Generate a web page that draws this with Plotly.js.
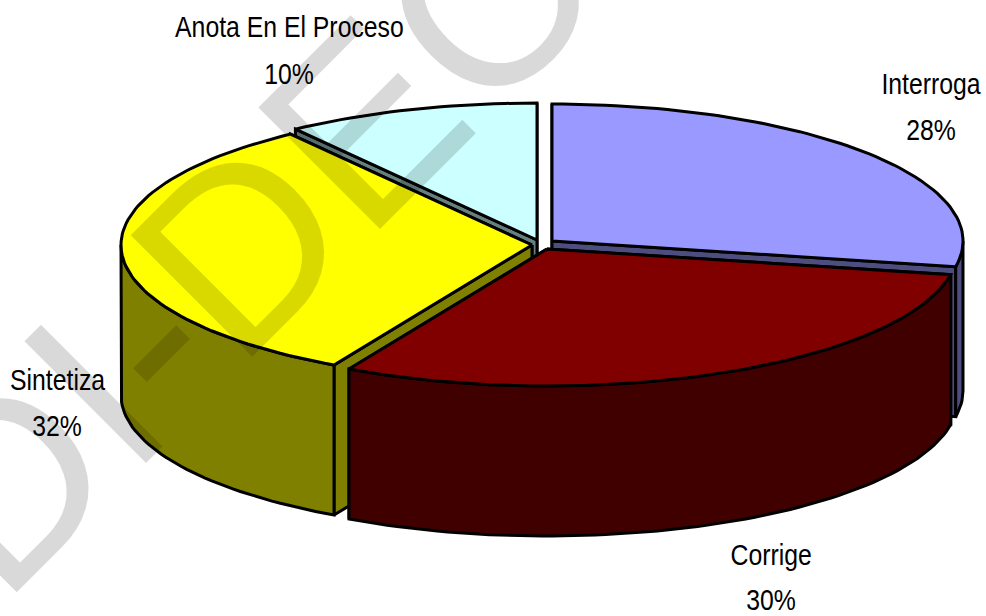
<!DOCTYPE html>
<html>
<head>
<meta charset="utf-8">
<script src="https://cdn.plot.ly/plotly-3.0.1.min.js"></script>
<style>html,body{margin:0;padding:0;background:#fff}#chart{width:986px;height:616px}</style>
</head>
<body>
<div id="chart"></div>
<script>
// Data, clockwise from the top of the pie
const categories = ["Interroga", "Corrige", "Sintetiza", "Anota En El Proceso"];
const percents = [28, 30, 32, 10];
const topColors = ["#9999FF", "#800000", "#FFFF00", "#CCFFFF"];
const sideColors = ["#4D4D80", "#400000", "#808000", "#668080"];
const watermark = "DI-DECO";

// Pie geometry
const radiusX = 411, radiusY = 137, depth = 150;
const centersX = [552, 547, 532, 537];
const centersY = [241, 249, 245, 240];
const drawOrder = [3, 0, 2, 1];

// Label placement
const labelX = [931, 771, 57, 289];
const nameY = [83, 554, 379, 26];
const percentY = [129, 599, 425, 73];
const labelSqueeze = 0.826;

function px(i, t) { return centersX[i] + radiusX * Math.sin(t * Math.PI / 180); }
function py(i, t) { return centersY[i] - radiusY * Math.cos(t * Math.PI / 180); }
function arc(i, a, b, dy) {
  const xs = [], ys = [], n = Math.max(2, Math.ceil(Math.abs(b - a) / 1.5));
  for (let k = 0; k <= n; k++) {
    const t = a + (b - a) * k / n;
    xs.push(px(i, t)); ys.push(py(i, t) + dy);
  }
  return { xs, ys };
}
function poly(xs, ys, fill) {
  return {
    type: "scatter", mode: "lines", x: xs.concat(xs[0]), y: ys.concat(ys[0]),
    fill: "toself", fillcolor: fill, line: { color: "#000", width: 3 },
    hoverinfo: "skip", showlegend: false
  };
}

const starts = [], ends = [];
let run = 0;
percents.forEach(p => { starts.push(run); run += p * 3.6; ends.push(run); });

const traces = [];
drawOrder.forEach(i => {
  const a = starts[i], b = ends[i], cx = centersX[i], cy = centersY[i];
  // The cut face lying nearer the viewer is painted last
  [a, b].sort((p, q) => py(i, p) - py(i, q)).forEach(t => {
    const ex = px(i, t), ey = py(i, t);
    traces.push(poly([cx, ex, ex, cx], [cy, ey, ey + depth, cy + depth], sideColors[i]));
  });
  const wa = Math.max(a, 90), wb = Math.min(b, 270);
  if (wb > wa) {
    const up = arc(i, wa, wb, 0), down = arc(i, wb, wa, depth);
    traces.push(poly(up.xs.concat(down.xs), up.ys.concat(down.ys), sideColors[i]));
  }
  const top = arc(i, a, b, 0);
  traces.push(poly([cx].concat(top.xs), [cy].concat(top.ys), topColors[i]));
});

const labelFont = { family: "'Liberation Sans',Arial,sans-serif", size: 30, color: "#000" };
const annotations = [{
  text: watermark, x: 314, y: 172, xref: "x", yref: "y", showarrow: false, textangle: -45,
  xanchor: "center", yanchor: "middle",
  font: { family: "'Liberation Sans',Arial,sans-serif", size: 250, color: "rgba(0,0,0,0.15)" }
}];
categories.forEach((c, i) => {
  annotations.push({ text: c, x: labelX[i], y: nameY[i], xref: "x", yref: "y", showarrow: false, xanchor: "center", yanchor: "middle", borderpad: 0, font: labelFont });
  annotations.push({ text: percents[i] + "%", x: labelX[i], y: percentY[i], xref: "x", yref: "y", showarrow: false, xanchor: "center", yanchor: "middle", borderpad: 0, font: labelFont });
});

const hidden = { visible: false, fixedrange: true };
Plotly.newPlot("chart", traces, {
  width: 986, height: 616, margin: { l: 0, r: 0, t: 0, b: 0 },
  paper_bgcolor: "#fff", plot_bgcolor: "#fff", showlegend: false,
  xaxis: Object.assign({ range: [0, 986] }, hidden),
  yaxis: Object.assign({ range: [616, 0] }, hidden),
  annotations
}, { displayModeBar: false, staticPlot: true }).then(() => {
  document.querySelectorAll(".annotation").forEach((g, k) => {
    if (k === 0) return;
    const t = g.querySelector("text");
    t.setAttribute("textLength", (t.getComputedTextLength() * labelSqueeze).toFixed(1));
    t.setAttribute("lengthAdjust", "spacingAndGlyphs");
  });
});
</script>
</body>
</html>
